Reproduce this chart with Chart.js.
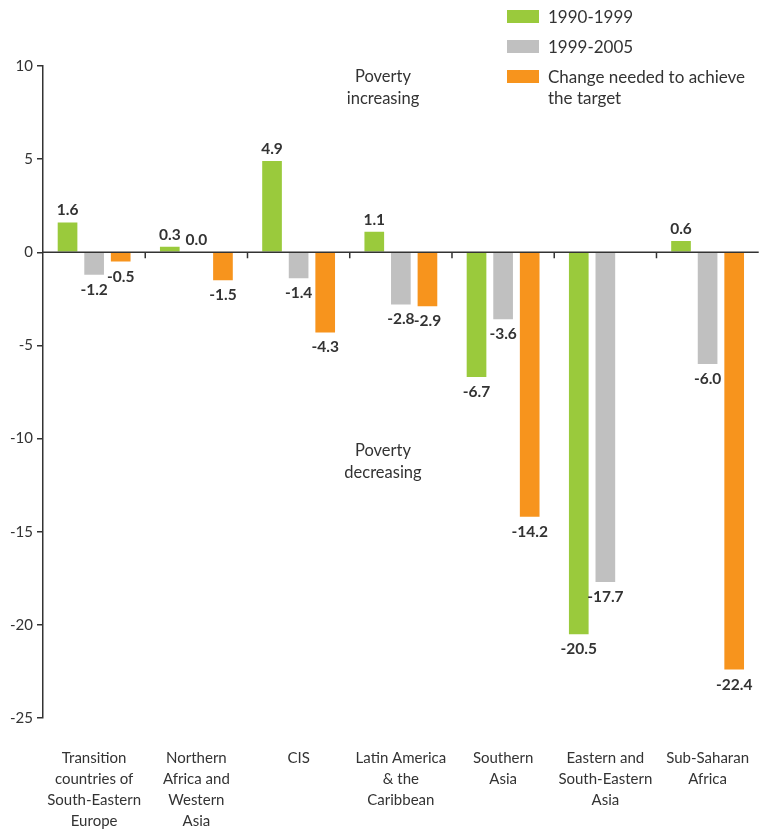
<!DOCTYPE html>
<html>
<head>
<meta charset="utf-8">
<script src="https://cdn.jsdelivr.net/npm/chart.js@4"></script>
<style>
  body { margin: 0; background: #fff; }
  #wrap { position: relative; width: 771px; height: 829px; }
  .legend { position: absolute; left: 507px; top: 6px; font-family: Lato, sans-serif; font-size: 17px; color: #333; }
  .legend div { position: relative; padding-left: 41px; line-height: 21px; margin-bottom: 9px; }
  .legend span { position: absolute; left: 0; top: 4px; width: 32px; height: 13px; }
</style>
</head>
<body>
<div id="wrap">
  <canvas id="grafico" width="771" height="829"></canvas>
  <div class="legend">
    <div><span style="background:#9aca3c"></span>1990-1999</div>
    <div><span style="background:#c0c0c0"></span>1999-2005</div>
    <div><span style="background:#f7941d"></span>Change needed to achieve<br>the target</div>
  </div>
</div>
<script>
const regioes = [
  ['Transition', 'countries of', 'South-Eastern', 'Europe'],
  ['Northern', 'Africa and', 'Western', 'Asia'],
  ['CIS'],
  ['Latin America', '& the', 'Caribbean'],
  ['Southern', 'Asia'],
  ['Eastern and', 'South-Eastern', 'Asia'],
  ['Sub-Saharan', 'Africa']
];
const valores1990 = [1.6, 0.3, 4.9, 1.1, -6.7, -20.5, 0.6];
const valores1999 = [-1.2, 0.0, -1.4, -2.8, -3.6, -17.7, -6.0];
const valoresMeta = [-0.5, -1.5, -4.3, -2.9, -14.2, null, -22.4];
const ticksY = [10, 5, 0, -5, -10, -15, -20, -25];

const corTexto = '#333333';

// linha do zero com tracinhos entre as categorias + rótulos das barras
const extras = {
  id: 'extras',
  afterDatasetsDraw(chart) {
    const { ctx, chartArea, scales } = chart;
    const y0 = scales.y.getPixelForValue(0);
    ctx.save();
    ctx.strokeStyle = corTexto;
    ctx.lineWidth = 1.5;
    ctx.beginPath();
    ctx.moveTo(chartArea.left, y0);
    ctx.lineTo(chartArea.right, y0);
    for (let i = 1; i < regioes.length; i++) {
      const x = (scales.x.getPixelForValue(i - 1) + scales.x.getPixelForValue(i)) / 2;
      ctx.moveTo(x, y0);
      ctx.lineTo(x, y0 + 6);
    }
    ctx.stroke();

    ctx.fillStyle = corTexto;
    ctx.font = 'bold 15.5px Lato, sans-serif';
    ctx.textAlign = 'center';
    ctx.textBaseline = 'middle';
    chart.data.datasets.forEach((ds, di) => {
      chart.getDatasetMeta(di).data.forEach((bar, i) => {
        const v = ds.data[i];
        if (v === null) return;
        const y = v >= 0 ? bar.y - 12 : bar.y + 15;
        ctx.fillText(v.toFixed(1), bar.x, y);
      });
    });

    ctx.font = '16.5px Lato, sans-serif';
    ctx.fillText('Poverty', 383, 77);
    ctx.fillText('increasing', 383, 99);
    ctx.fillText('Poverty', 383, 451);
    ctx.fillText('decreasing', 383, 473);
    ctx.restore();
  }
};

new Chart(document.getElementById('grafico'), {
  type: 'bar',
  data: {
    labels: regioes,
    datasets: [
      { label: '1990-1999', data: valores1990, backgroundColor: '#9aca3c' },
      { label: '1999-2005', data: valores1999, backgroundColor: '#c0c0c0' },
      { label: 'Change needed to achieve the target', data: valoresMeta, backgroundColor: '#f7941d' }
    ]
  },
  options: {
    responsive: false,
    animation: false,
    layout: { padding: { top: 66, right: 0, bottom: 0, left: 0 } },
    datasets: { bar: { barPercentage: 0.74, categoryPercentage: 0.78 } },
    plugins: {
      legend: { display: false },
      tooltip: { enabled: false }
    },
    scales: {
      x: {
        afterFit(axis) { axis.height = 111; },
        grid: { display: false },
        border: { display: false },
        ticks: {
          color: corTexto,
          font: { family: 'Lato, sans-serif', size: 15, lineHeight: 1.4 },
          padding: 22,
          maxRotation: 0,
          autoSkip: false
        }
      },
      y: {
        min: -25,
        max: 10,
        afterBuildTicks(axis) { axis.ticks = ticksY.map(v => ({ value: v })); },
        afterFit(axis) { axis.width = 43; },
        grid: { drawOnChartArea: false, tickLength: 6, color: corTexto, lineWidth: 1.5 },
        border: { color: corTexto, width: 1.5 },
        ticks: {
          color: corTexto,
          font: { family: 'Lato, sans-serif', size: 15 },
          padding: 4
        }
      }
    }
  },
  plugins: [extras]
});
</script>
</body>
</html>
